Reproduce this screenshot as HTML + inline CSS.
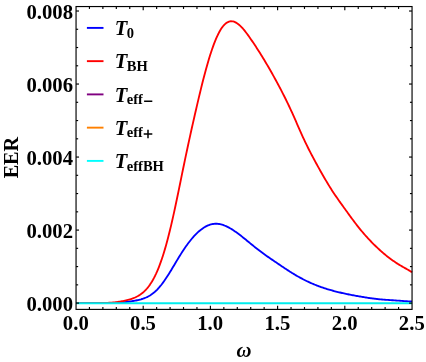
<!DOCTYPE html>
<html><head><meta charset="utf-8"><title>EER plot</title>
<style>
html,body{margin:0;padding:0;background:#fff;}
svg{display:block;font-family:"Liberation Serif",serif;will-change:transform;}
.tk text{font-size:20.7px;font-weight:bold;fill:#000;}
.lt .T{font-size:20.5px;font-weight:bold;font-style:italic;}
.lt .sub{font-size:14.5px;font-weight:bold;}
</style></head><body>
<svg width="426" height="362" viewBox="0 0 426 362">
<rect width="426" height="362" fill="#fff"/>
<path d="M76.0,303.10 L77.0,303.10 L78.0,303.10 L79.0,303.09 L80.0,303.09 L81.0,303.08 L82.0,303.08 L83.0,303.08 L84.0,303.08 L85.0,303.08 L86.0,303.08 L87.0,303.08 L88.0,303.08 L89.0,303.09 L90.0,303.09 L91.0,303.09 L92.0,303.09 L93.0,303.10 L94.0,303.10 L95.0,303.10 L96.0,303.10 L97.0,303.10 L98.0,303.10 L99.0,303.10 L100.0,303.10 L101.0,303.10 L102.0,303.10 L103.0,303.10 L104.0,303.10 L105.0,303.09 L106.0,303.08 L107.0,303.06 L108.0,303.05 L109.0,303.03 L110.0,303.01 L111.0,302.98 L112.0,302.95 L113.0,302.92 L114.0,302.88 L115.0,302.84 L116.0,302.79 L117.0,302.73 L118.0,302.67 L119.0,302.61 L120.0,302.53 L121.0,302.45 L122.0,302.37 L123.0,302.28 L124.0,302.18 L125.0,302.08 L126.0,301.97 L127.0,301.86 L128.0,301.74 L129.0,301.61 L130.0,301.47 L131.0,301.33 L132.0,301.17 L133.0,301.01 L134.0,300.84 L135.0,300.66 L136.0,300.47 L137.0,300.27 L138.0,300.05 L139.0,299.82 L140.0,299.57 L141.0,299.30 L142.0,299.00 L143.0,298.68 L144.0,298.32 L145.0,297.94 L146.0,297.52 L147.0,297.06 L148.0,296.56 L149.0,296.02 L150.0,295.43 L151.0,294.79 L152.0,294.10 L153.0,293.35 L154.0,292.55 L155.0,291.69 L156.0,290.77 L157.0,289.79 L158.0,288.74 L159.0,287.63 L160.0,286.46 L161.0,285.24 L162.0,283.95 L163.0,282.62 L164.0,281.23 L165.0,279.80 L166.0,278.32 L167.0,276.80 L168.0,275.25 L169.0,273.66 L170.0,272.04 L171.0,270.40 L172.0,268.75 L173.0,267.07 L174.0,265.40 L175.0,263.71 L176.0,262.04 L177.0,260.37 L178.0,258.72 L179.0,257.08 L180.0,255.47 L181.0,253.88 L182.0,252.31 L183.0,250.77 L184.0,249.26 L185.0,247.78 L186.0,246.34 L187.0,244.93 L188.0,243.57 L189.0,242.24 L190.0,240.95 L191.0,239.71 L192.0,238.50 L193.0,237.34 L194.0,236.23 L195.0,235.16 L196.0,234.13 L197.0,233.14 L198.0,232.20 L199.0,231.30 L200.0,230.45 L201.0,229.64 L202.0,228.89 L203.0,228.18 L204.0,227.52 L205.0,226.92 L206.0,226.36 L207.0,225.86 L208.0,225.42 L209.0,225.02 L210.0,224.68 L211.0,224.39 L212.0,224.16 L213.0,223.98 L214.0,223.85 L215.0,223.78 L216.0,223.75 L217.0,223.78 L218.0,223.87 L219.0,224.00 L220.0,224.18 L221.0,224.41 L222.0,224.68 L223.0,224.99 L224.0,225.34 L225.0,225.74 L226.0,226.17 L227.0,226.63 L228.0,227.13 L229.0,227.66 L230.0,228.22 L231.0,228.80 L232.0,229.41 L233.0,230.05 L234.0,230.71 L235.0,231.39 L236.0,232.09 L237.0,232.81 L238.0,233.54 L239.0,234.29 L240.0,235.06 L241.0,235.83 L242.0,236.62 L243.0,237.42 L244.0,238.22 L245.0,239.03 L246.0,239.84 L247.0,240.66 L248.0,241.48 L249.0,242.30 L250.0,243.12 L251.0,243.94 L252.0,244.76 L253.0,245.57 L254.0,246.38 L255.0,247.18 L256.0,247.98 L257.0,248.77 L258.0,249.54 L259.0,250.31 L260.0,251.07 L261.0,251.82 L262.0,252.57 L263.0,253.30 L264.0,254.03 L265.0,254.75 L266.0,255.46 L267.0,256.17 L268.0,256.87 L269.0,257.57 L270.0,258.26 L271.0,258.95 L272.0,259.63 L273.0,260.32 L274.0,260.99 L275.0,261.67 L276.0,262.35 L277.0,263.02 L278.0,263.70 L279.0,264.37 L280.0,265.05 L281.0,265.72 L282.0,266.40 L283.0,267.07 L284.0,267.74 L285.0,268.40 L286.0,269.06 L287.0,269.72 L288.0,270.37 L289.0,271.02 L290.0,271.66 L291.0,272.29 L292.0,272.92 L293.0,273.53 L294.0,274.15 L295.0,274.75 L296.0,275.34 L297.0,275.93 L298.0,276.50 L299.0,277.06 L300.0,277.62 L301.0,278.16 L302.0,278.69 L303.0,279.22 L304.0,279.73 L305.0,280.24 L306.0,280.73 L307.0,281.21 L308.0,281.69 L309.0,282.15 L310.0,282.61 L311.0,283.06 L312.0,283.49 L313.0,283.92 L314.0,284.34 L315.0,284.75 L316.0,285.15 L317.0,285.54 L318.0,285.92 L319.0,286.30 L320.0,286.67 L321.0,287.02 L322.0,287.37 L323.0,287.72 L324.0,288.05 L325.0,288.38 L326.0,288.70 L327.0,289.01 L328.0,289.32 L329.0,289.62 L330.0,289.91 L331.0,290.20 L332.0,290.48 L333.0,290.75 L334.0,291.02 L335.0,291.28 L336.0,291.54 L337.0,291.79 L338.0,292.04 L339.0,292.28 L340.0,292.52 L341.0,292.75 L342.0,292.98 L343.0,293.20 L344.0,293.42 L345.0,293.64 L346.0,293.85 L347.0,294.06 L348.0,294.27 L349.0,294.47 L350.0,294.67 L351.0,294.86 L352.0,295.06 L353.0,295.25 L354.0,295.44 L355.0,295.62 L356.0,295.80 L357.0,295.99 L358.0,296.17 L359.0,296.34 L360.0,296.52 L361.0,296.69 L362.0,296.86 L363.0,297.03 L364.0,297.20 L365.0,297.36 L366.0,297.52 L367.0,297.68 L368.0,297.83 L369.0,297.98 L370.0,298.13 L371.0,298.27 L372.0,298.41 L373.0,298.54 L374.0,298.67 L375.0,298.79 L376.0,298.91 L377.0,299.03 L378.0,299.13 L379.0,299.23 L380.0,299.33 L381.0,299.42 L382.0,299.51 L383.0,299.59 L384.0,299.67 L385.0,299.74 L386.0,299.81 L387.0,299.88 L388.0,299.95 L389.0,300.02 L390.0,300.08 L391.0,300.15 L392.0,300.21 L393.0,300.28 L394.0,300.34 L395.0,300.41 L396.0,300.48 L397.0,300.55 L398.0,300.63 L399.0,300.70 L400.0,300.78 L401.0,300.87 L402.0,300.95 L403.0,301.03 L404.0,301.10 L405.0,301.17 L406.0,301.24 L407.0,301.29 L408.0,301.34 L409.0,301.38 L410.0,301.40 L411.0,301.41 L412.0,301.40" fill="none" stroke="#0000ff" stroke-width="1.85" stroke-linejoin="round"/>
<path d="M76.0,303.10 L77.0,303.10 L78.0,303.10 L79.0,303.09 L80.0,303.09 L81.0,303.09 L82.0,303.09 L83.0,303.09 L84.0,303.09 L85.0,303.09 L86.0,303.09 L87.0,303.09 L88.0,303.09 L89.0,303.09 L90.0,303.09 L91.0,303.09 L92.0,303.09 L93.0,303.09 L94.0,303.09 L95.0,303.08 L96.0,303.08 L97.0,303.07 L98.0,303.06 L99.0,303.05 L100.0,303.04 L101.0,303.02 L102.0,303.00 L103.0,302.98 L104.0,302.96 L105.0,302.93 L106.0,302.89 L107.0,302.85 L108.0,302.81 L109.0,302.76 L110.0,302.70 L111.0,302.64 L112.0,302.57 L113.0,302.49 L114.0,302.40 L115.0,302.30 L116.0,302.19 L117.0,302.07 L118.0,301.93 L119.0,301.79 L120.0,301.63 L121.0,301.46 L122.0,301.28 L123.0,301.09 L124.0,300.88 L125.0,300.66 L126.0,300.42 L127.0,300.17 L128.0,299.91 L129.0,299.63 L130.0,299.33 L131.0,299.01 L132.0,298.68 L133.0,298.31 L134.0,297.92 L135.0,297.50 L136.0,297.04 L137.0,296.54 L138.0,296.00 L139.0,295.41 L140.0,294.77 L141.0,294.08 L142.0,293.32 L143.0,292.50 L144.0,291.62 L145.0,290.66 L146.0,289.62 L147.0,288.50 L148.0,287.29 L149.0,285.99 L150.0,284.59 L151.0,283.09 L152.0,281.48 L153.0,279.76 L154.0,277.92 L155.0,275.96 L156.0,273.87 L157.0,271.65 L158.0,269.29 L159.0,266.80 L160.0,264.17 L161.0,261.40 L162.0,258.49 L163.0,255.43 L164.0,252.23 L165.0,248.89 L166.0,245.40 L167.0,241.77 L168.0,238.00 L169.0,234.09 L170.0,230.04 L171.0,225.86 L172.0,221.55 L173.0,217.13 L174.0,212.61 L175.0,207.99 L176.0,203.29 L177.0,198.53 L178.0,193.71 L179.0,188.85 L180.0,183.96 L181.0,179.06 L182.0,174.17 L183.0,169.30 L184.0,164.46 L185.0,159.67 L186.0,154.92 L187.0,150.21 L188.0,145.54 L189.0,140.92 L190.0,136.34 L191.0,131.80 L192.0,127.31 L193.0,122.85 L194.0,118.43 L195.0,114.06 L196.0,109.72 L197.0,105.41 L198.0,101.14 L199.0,96.91 L200.0,92.73 L201.0,88.61 L202.0,84.57 L203.0,80.60 L204.0,76.72 L205.0,72.93 L206.0,69.24 L207.0,65.65 L208.0,62.18 L209.0,58.82 L210.0,55.59 L211.0,52.47 L212.0,49.49 L213.0,46.64 L214.0,43.93 L215.0,41.36 L216.0,38.94 L217.0,36.66 L218.0,34.53 L219.0,32.56 L220.0,30.75 L221.0,29.09 L222.0,27.60 L223.0,26.27 L224.0,25.10 L225.0,24.10 L226.0,23.26 L227.0,22.57 L228.0,22.04 L229.0,21.65 L230.0,21.40 L231.0,21.29 L232.0,21.31 L233.0,21.46 L234.0,21.73 L235.0,22.11 L236.0,22.61 L237.0,23.21 L238.0,23.91 L239.0,24.72 L240.0,25.60 L241.0,26.58 L242.0,27.62 L243.0,28.74 L244.0,29.92 L245.0,31.16 L246.0,32.45 L247.0,33.78 L248.0,35.14 L249.0,36.54 L250.0,37.97 L251.0,39.41 L252.0,40.87 L253.0,42.35 L254.0,43.84 L255.0,45.34 L256.0,46.86 L257.0,48.39 L258.0,49.94 L259.0,51.51 L260.0,53.09 L261.0,54.68 L262.0,56.29 L263.0,57.92 L264.0,59.56 L265.0,61.23 L266.0,62.91 L267.0,64.60 L268.0,66.31 L269.0,68.04 L270.0,69.79 L271.0,71.54 L272.0,73.32 L273.0,75.11 L274.0,76.91 L275.0,78.73 L276.0,80.56 L277.0,82.40 L278.0,84.26 L279.0,86.14 L280.0,88.03 L281.0,89.94 L282.0,91.86 L283.0,93.81 L284.0,95.78 L285.0,97.77 L286.0,99.78 L287.0,101.82 L288.0,103.89 L289.0,105.99 L290.0,108.12 L291.0,110.28 L292.0,112.47 L293.0,114.70 L294.0,116.94 L295.0,119.20 L296.0,121.48 L297.0,123.76 L298.0,126.04 L299.0,128.32 L300.0,130.58 L301.0,132.83 L302.0,135.06 L303.0,137.27 L304.0,139.43 L305.0,141.57 L306.0,143.66 L307.0,145.71 L308.0,147.74 L309.0,149.72 L310.0,151.68 L311.0,153.62 L312.0,155.52 L313.0,157.41 L314.0,159.27 L315.0,161.12 L316.0,162.95 L317.0,164.77 L318.0,166.58 L319.0,168.38 L320.0,170.18 L321.0,171.96 L322.0,173.73 L323.0,175.48 L324.0,177.22 L325.0,178.94 L326.0,180.65 L327.0,182.33 L328.0,183.99 L329.0,185.63 L330.0,187.24 L331.0,188.83 L332.0,190.39 L333.0,191.92 L334.0,193.43 L335.0,194.92 L336.0,196.39 L337.0,197.84 L338.0,199.27 L339.0,200.69 L340.0,202.10 L341.0,203.50 L342.0,204.89 L343.0,206.28 L344.0,207.67 L345.0,209.06 L346.0,210.44 L347.0,211.83 L348.0,213.22 L349.0,214.60 L350.0,215.98 L351.0,217.35 L352.0,218.71 L353.0,220.07 L354.0,221.41 L355.0,222.73 L356.0,224.04 L357.0,225.34 L358.0,226.61 L359.0,227.87 L360.0,229.11 L361.0,230.32 L362.0,231.52 L363.0,232.70 L364.0,233.86 L365.0,235.00 L366.0,236.12 L367.0,237.23 L368.0,238.32 L369.0,239.39 L370.0,240.45 L371.0,241.49 L372.0,242.52 L373.0,243.53 L374.0,244.53 L375.0,245.51 L376.0,246.48 L377.0,247.44 L378.0,248.38 L379.0,249.30 L380.0,250.21 L381.0,251.11 L382.0,251.99 L383.0,252.86 L384.0,253.71 L385.0,254.54 L386.0,255.36 L387.0,256.17 L388.0,256.95 L389.0,257.73 L390.0,258.49 L391.0,259.23 L392.0,259.96 L393.0,260.67 L394.0,261.36 L395.0,262.05 L396.0,262.71 L397.0,263.36 L398.0,263.99 L399.0,264.61 L400.0,265.21 L401.0,265.80 L402.0,266.39 L403.0,266.96 L404.0,267.53 L405.0,268.10 L406.0,268.67 L407.0,269.24 L408.0,269.82 L409.0,270.40 L410.0,271.00 L411.0,271.61 L412.0,272.24" fill="none" stroke="#ff0000" stroke-width="1.85" stroke-linejoin="round"/>
<line x1="76.05" y1="303.2" x2="412.05" y2="303.2" stroke="#00eded" stroke-width="2.0"/>
<g stroke="#000" stroke-width="1.15" fill="none">
<rect x="76.05" y="6.55" width="336.0" height="302.84999999999997"/>
<line x1="89.44" y1="309.4" x2="89.44" y2="307.0"/>
<line x1="89.44" y1="6.55" x2="89.44" y2="8.95"/>
<line x1="102.88" y1="309.4" x2="102.88" y2="307.0"/>
<line x1="102.88" y1="6.55" x2="102.88" y2="8.95"/>
<line x1="116.32" y1="309.4" x2="116.32" y2="307.0"/>
<line x1="116.32" y1="6.55" x2="116.32" y2="8.95"/>
<line x1="129.76" y1="309.4" x2="129.76" y2="307.0"/>
<line x1="129.76" y1="6.55" x2="129.76" y2="8.95"/>
<line x1="143.20" y1="309.4" x2="143.20" y2="305.79999999999995"/>
<line x1="143.20" y1="6.55" x2="143.20" y2="10.15"/>
<line x1="156.64" y1="309.4" x2="156.64" y2="307.0"/>
<line x1="156.64" y1="6.55" x2="156.64" y2="8.95"/>
<line x1="170.08" y1="309.4" x2="170.08" y2="307.0"/>
<line x1="170.08" y1="6.55" x2="170.08" y2="8.95"/>
<line x1="183.52" y1="309.4" x2="183.52" y2="307.0"/>
<line x1="183.52" y1="6.55" x2="183.52" y2="8.95"/>
<line x1="196.96" y1="309.4" x2="196.96" y2="307.0"/>
<line x1="196.96" y1="6.55" x2="196.96" y2="8.95"/>
<line x1="210.40" y1="309.4" x2="210.40" y2="305.79999999999995"/>
<line x1="210.40" y1="6.55" x2="210.40" y2="10.15"/>
<line x1="223.84" y1="309.4" x2="223.84" y2="307.0"/>
<line x1="223.84" y1="6.55" x2="223.84" y2="8.95"/>
<line x1="237.28" y1="309.4" x2="237.28" y2="307.0"/>
<line x1="237.28" y1="6.55" x2="237.28" y2="8.95"/>
<line x1="250.72" y1="309.4" x2="250.72" y2="307.0"/>
<line x1="250.72" y1="6.55" x2="250.72" y2="8.95"/>
<line x1="264.16" y1="309.4" x2="264.16" y2="307.0"/>
<line x1="264.16" y1="6.55" x2="264.16" y2="8.95"/>
<line x1="277.60" y1="309.4" x2="277.60" y2="305.79999999999995"/>
<line x1="277.60" y1="6.55" x2="277.60" y2="10.15"/>
<line x1="291.04" y1="309.4" x2="291.04" y2="307.0"/>
<line x1="291.04" y1="6.55" x2="291.04" y2="8.95"/>
<line x1="304.48" y1="309.4" x2="304.48" y2="307.0"/>
<line x1="304.48" y1="6.55" x2="304.48" y2="8.95"/>
<line x1="317.92" y1="309.4" x2="317.92" y2="307.0"/>
<line x1="317.92" y1="6.55" x2="317.92" y2="8.95"/>
<line x1="331.36" y1="309.4" x2="331.36" y2="307.0"/>
<line x1="331.36" y1="6.55" x2="331.36" y2="8.95"/>
<line x1="344.80" y1="309.4" x2="344.80" y2="305.79999999999995"/>
<line x1="344.80" y1="6.55" x2="344.80" y2="10.15"/>
<line x1="358.24" y1="309.4" x2="358.24" y2="307.0"/>
<line x1="358.24" y1="6.55" x2="358.24" y2="8.95"/>
<line x1="371.68" y1="309.4" x2="371.68" y2="307.0"/>
<line x1="371.68" y1="6.55" x2="371.68" y2="8.95"/>
<line x1="385.12" y1="309.4" x2="385.12" y2="307.0"/>
<line x1="385.12" y1="6.55" x2="385.12" y2="8.95"/>
<line x1="398.56" y1="309.4" x2="398.56" y2="307.0"/>
<line x1="398.56" y1="6.55" x2="398.56" y2="8.95"/>
<line x1="76.05" y1="303.10" x2="79.05" y2="303.10"/>
<line x1="412.05" y1="303.10" x2="409.05" y2="303.10"/>
<line x1="76.05" y1="284.85" x2="78.14999999999999" y2="284.85"/>
<line x1="412.05" y1="284.85" x2="409.95" y2="284.85"/>
<line x1="76.05" y1="266.59" x2="78.14999999999999" y2="266.59"/>
<line x1="412.05" y1="266.59" x2="409.95" y2="266.59"/>
<line x1="76.05" y1="248.34" x2="78.14999999999999" y2="248.34"/>
<line x1="412.05" y1="248.34" x2="409.95" y2="248.34"/>
<line x1="76.05" y1="230.08" x2="79.05" y2="230.08"/>
<line x1="412.05" y1="230.08" x2="409.05" y2="230.08"/>
<line x1="76.05" y1="211.83" x2="78.14999999999999" y2="211.83"/>
<line x1="412.05" y1="211.83" x2="409.95" y2="211.83"/>
<line x1="76.05" y1="193.57" x2="78.14999999999999" y2="193.57"/>
<line x1="412.05" y1="193.57" x2="409.95" y2="193.57"/>
<line x1="76.05" y1="175.32" x2="78.14999999999999" y2="175.32"/>
<line x1="412.05" y1="175.32" x2="409.95" y2="175.32"/>
<line x1="76.05" y1="157.06" x2="79.05" y2="157.06"/>
<line x1="412.05" y1="157.06" x2="409.05" y2="157.06"/>
<line x1="76.05" y1="138.81" x2="78.14999999999999" y2="138.81"/>
<line x1="412.05" y1="138.81" x2="409.95" y2="138.81"/>
<line x1="76.05" y1="120.55" x2="78.14999999999999" y2="120.55"/>
<line x1="412.05" y1="120.55" x2="409.95" y2="120.55"/>
<line x1="76.05" y1="102.30" x2="78.14999999999999" y2="102.30"/>
<line x1="412.05" y1="102.30" x2="409.95" y2="102.30"/>
<line x1="76.05" y1="84.04" x2="79.05" y2="84.04"/>
<line x1="412.05" y1="84.04" x2="409.05" y2="84.04"/>
<line x1="76.05" y1="65.78" x2="78.14999999999999" y2="65.78"/>
<line x1="412.05" y1="65.78" x2="409.95" y2="65.78"/>
<line x1="76.05" y1="47.53" x2="78.14999999999999" y2="47.53"/>
<line x1="412.05" y1="47.53" x2="409.95" y2="47.53"/>
<line x1="76.05" y1="29.28" x2="78.14999999999999" y2="29.28"/>
<line x1="412.05" y1="29.28" x2="409.95" y2="29.28"/>
<line x1="76.05" y1="11.02" x2="79.05" y2="11.02"/>
<line x1="412.05" y1="11.02" x2="409.05" y2="11.02"/>
</g>
<g class="tk">
<text x="75.8" y="330.4" text-anchor="middle">0.0</text>
<text x="143.0" y="330.4" text-anchor="middle">0.5</text>
<text x="210.2" y="330.4" text-anchor="middle">1.0</text>
<text x="277.4" y="330.4" text-anchor="middle">1.5</text>
<text x="344.6" y="330.4" text-anchor="middle">2.0</text>
<text x="411.8" y="330.4" text-anchor="middle">2.5</text>
<text x="73.0" y="310.7" text-anchor="end">0.000</text>
<text x="73.0" y="237.7" text-anchor="end">0.002</text>
<text x="73.0" y="164.7" text-anchor="end">0.004</text>
<text x="73.0" y="91.6" text-anchor="end">0.006</text>
<text x="73.0" y="18.6" text-anchor="end">0.008</text>
</g>
<line x1="86.9" y1="27.90" x2="103.5" y2="27.90" stroke="#0000ff" stroke-width="1.9"/>
<text x="114.7" y="35.10" class="lt"><tspan class="T">T</tspan><tspan class="sub" dx="-0.4" dy="2.5">0</tspan></text>
<line x1="86.9" y1="61.15" x2="103.5" y2="61.15" stroke="#ff0000" stroke-width="1.9"/>
<text x="114.7" y="68.35" class="lt"><tspan class="T">T</tspan><tspan class="sub" dx="-0.4" dy="2.5">BH</tspan></text>
<line x1="86.9" y1="94.40" x2="103.5" y2="94.40" stroke="#800080" stroke-width="1.9"/>
<text x="114.7" y="101.60" class="lt"><tspan class="T">T</tspan><tspan class="sub" dx="-0.4" dy="2.5">eff</tspan></text>
<line x1="86.9" y1="127.65" x2="103.5" y2="127.65" stroke="#ff8000" stroke-width="1.9"/>
<text x="114.7" y="134.85" class="lt"><tspan class="T">T</tspan><tspan class="sub" dx="-0.4" dy="2.5">eff</tspan></text>
<line x1="86.9" y1="160.90" x2="103.5" y2="160.90" stroke="#00ffff" stroke-width="1.9"/>
<text x="114.7" y="168.10" class="lt"><tspan class="T">T</tspan><tspan class="sub" dx="-0.4" dy="2.5">effBH</tspan></text>
<path d="M144.1,101.20H152.3M143.7,134.05H152.3M148,129.75V138.35" stroke="#000" stroke-width="1.5" fill="none"/>
<text transform="translate(18.4,157.6) rotate(-90)" text-anchor="middle" font-size="20.2" font-weight="bold">EER</text>
<text x="244" y="356.7" text-anchor="middle" font-size="20.7" font-style="italic" font-weight="bold">ω</text>
</svg>
</body></html>
